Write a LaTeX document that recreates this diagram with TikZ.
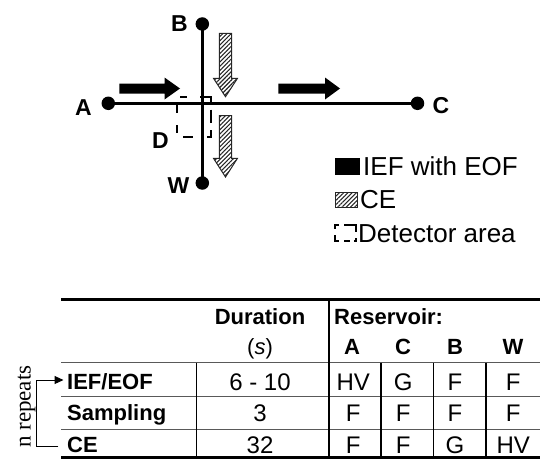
\documentclass[tikz,border=0pt]{standalone}
\usepackage{fontspec}
\setmainfont{Liberation Sans}
\newfontfamily\seriffont{Liberation Serif}
\usetikzlibrary{arrows.meta,patterns.meta}
\begin{document}
\begin{tikzpicture}[x=1pt,y=-1pt,
  lbl/.style={font=\fontsize{23}{27}\selectfont\bfseries, inner sep=0},
  dot/.style={circle, fill=black, inner sep=0, minimum size=13.5pt},
  chan/.style={line width=3pt},
  hdr/.style={font=\fontsize{22}{26}\selectfont\bfseries, inner sep=0, anchor=base},
  rowlbl/.style={font=\fontsize{22}{26}\selectfont\bfseries, inner sep=0, anchor=base west},
  val/.style={font=\fontsize{24}{28}\selectfont, inner sep=0, anchor=base},
  legtxt/.style={font=\fontsize{26}{30}\selectfont, inner sep=0, anchor=west},
  hatch/.style={pattern={Lines[angle=45,distance=3pt,line width=1.1pt]}, pattern color=black!85},
  hatchedge/.style={draw=black!85, line width=1pt},
  detdash/.style={line width=2pt},
  rulethick/.style={line width=3pt},
  rulethin/.style={line width=1pt, draw=black!65},
  vsep/.style={line width=1.2pt},
  bracket/.style={line width=1pt}
]
\useasboundingbox (0,0) rectangle (540,460);

% ---------- chip diagram ----------
\node[dot] (A) at (108.3,103.3) {};
\node[dot] (B) at (202.3,24) {};
\node[dot] (C) at (417.5,103.3) {};
\node[dot] (W) at (202.3,183) {};
\draw[chan] (A.center) -- (C.center);
\draw[chan] (B.center) -- (W.center);

\node[lbl] (Alab) at (83.5,107.5) {A};
\node[lbl] (Blab) at (179.5,23.5) {B};
\node[lbl] (Clab) at (441,106) {C};
\node[lbl] (Dlab) at (160.5,140.7) {D};
\node[lbl] (Wlab) at (178.5,186) {W};

% black IEF arrows
\fill (119.3,83.5) -- (164.5,83.5) -- (164.5,77.5) -- (180,88.5) -- (164.5,99.5) -- (164.5,93.5) -- (119.3,93.5) -- cycle;
\fill (278.3,83.5) -- (325,83.5) -- (325,77.5) -- (340,88.5) -- (325,99.5) -- (325,93.5) -- (278.3,93.5) -- cycle;

% hatched CE arrows
\path[hatch] (219.3,33.3) -- (231.7,33.3) -- (231.7,78.3) -- (237.5,78.3) -- (225.5,96.7) -- (213.5,78.3) -- (219.3,78.3) -- cycle;
\draw[hatchedge] (219.3,33.3) -- (231.7,33.3) -- (231.7,78.3) -- (237.5,78.3) -- (225.5,96.7) -- (213.5,78.3) -- (219.3,78.3) -- cycle;
\path[hatch] (219.3,115.5) -- (231.7,115.5) -- (231.7,158.3) -- (237.5,158.3) -- (225.5,177) -- (213.5,158.3) -- (219.3,158.3) -- cycle;
\draw[hatchedge] (219.3,115.5) -- (231.7,115.5) -- (231.7,158.3) -- (237.5,158.3) -- (225.5,177) -- (213.5,158.3) -- (219.3,158.3) -- cycle;

% detector area (dashed box)
\draw[detdash] (180,96.7) -- (186.7,96.7);
\draw[detdash] (200,96.7) -- (211.3,96.7) -- (211.3,103.3);
\draw[detdash] (211.3,109.5) -- (211.3,123.3);
\draw[detdash] (211.3,130) -- (211.3,136.7) -- (206.7,136.7);
\draw[detdash] (183.3,136.7) -- (193.3,136.7);
\draw[detdash] (176.7,105) -- (176.7,113.3);
\draw[detdash] (176.7,125) -- (176.7,133.3);

% ---------- legend ----------
\fill (335,158) rectangle (360,175);
\node[legtxt] (legIEF) at (363,166.5) {IEF with EOF};
\path[hatch] (335,192) rectangle (357,207.5);
\draw[hatchedge] (335,192) rectangle (357,207.5);
\node[legtxt] (legCE) at (360,200) {CE};
\draw[detdash] (339,225) -- (335,225) -- (335,229);
\draw[detdash] (335,235) -- (335,241) -- (339,241);
\draw[detdash] (344,225) -- (356,225) -- (356,232);
\draw[detdash] (344,241) -- (350,241);
\draw[detdash] (354,241) -- (356,241) -- (356,238);
\node[legtxt] (legDet) at (358,233.5) {Detector area};

% ---------- table ----------
\draw[rulethick] (61,299.3) -- (540,299.3);
\draw[rulethin] (61,362.7) -- (540,362.7);
\draw[rulethin] (61,396.5) -- (540,396.5);
\draw[rulethin] (61,429.3) -- (540,429.3);
\draw[rulethick] (61,457.3) -- (540,457.3);
\draw[vsep] (196.7,362.7) -- (196.7,457.3);
\draw[vsep] (329,299.3) -- (329,457.3);
\draw[vsep] (381,362.7) -- (381,457.3);
\draw[vsep] (433.3,362.7) -- (433.3,457.3);
\draw[vsep] (486,362.7) -- (486,457.3);

\node[hdr] (hdur) at (260,324.6) {Duration};
\node[font=\fontsize{22}{26}\selectfont, inner sep=0, anchor=base] (hs) at (260,354.6) {(\textit{s})};
\node[hdr, anchor=base west] (hres) at (334,324.6) {Reservoir:};
\node[hdr] (hA) at (352,354.6) {A};
\node[hdr] (hC) at (403,354.6) {C};
\node[hdr] (hB) at (455,354.6) {B};
\node[hdr] (hW) at (513,354.6) {W};

\node[rowlbl] (r1) at (67,389.4) {IEF/EOF};
\node[rowlbl] (r2) at (67,420.4) {Sampling};
\node[rowlbl] (r3) at (67,452.4) {CE};

\node[val] (d1) at (260,390.1) {6 - 10};
\node[val] (d2) at (260,421.1) {3};
\node[val] (d3) at (260,453.1) {32};

\node[val] (a1) at (353.3,390.1) {HV};
\node[val] (c1) at (403.3,390.1) {G};
\node[val] (b1) at (455,390.1) {F};
\node[val] (w1) at (513.3,390.1) {F};
\node[val] (a2) at (353.3,421.1) {F};
\node[val] (c2) at (403.3,421.1) {F};
\node[val] (b2) at (455,421.1) {F};
\node[val] (w2) at (513.3,421.1) {F};
\node[val] (a3) at (353.3,453.1) {F};
\node[val] (c3) at (403.3,453.1) {F};
\node[val] (b3) at (455,453.1) {G};
\node[val] (w3) at (513.3,453.1) {HV};

% n repeats loop
\node[font=\seriffont\fontsize{23}{27}\selectfont, rotate=90, anchor=center, inner sep=0] (nrep) at (26.5,406.7) {n repeats};
\coordinate (ieIn) at (63.5,380);
\coordinate (ceIn) at (58.3,446);
\coordinate (brT) at (36.7,380);
\coordinate (brB) at (36.7,446);
\draw[bracket, -{Triangle[length=9pt,width=8pt]}] (ceIn) -- (brB) -- (brT) -- (ieIn);
\end{tikzpicture}
\end{document}
